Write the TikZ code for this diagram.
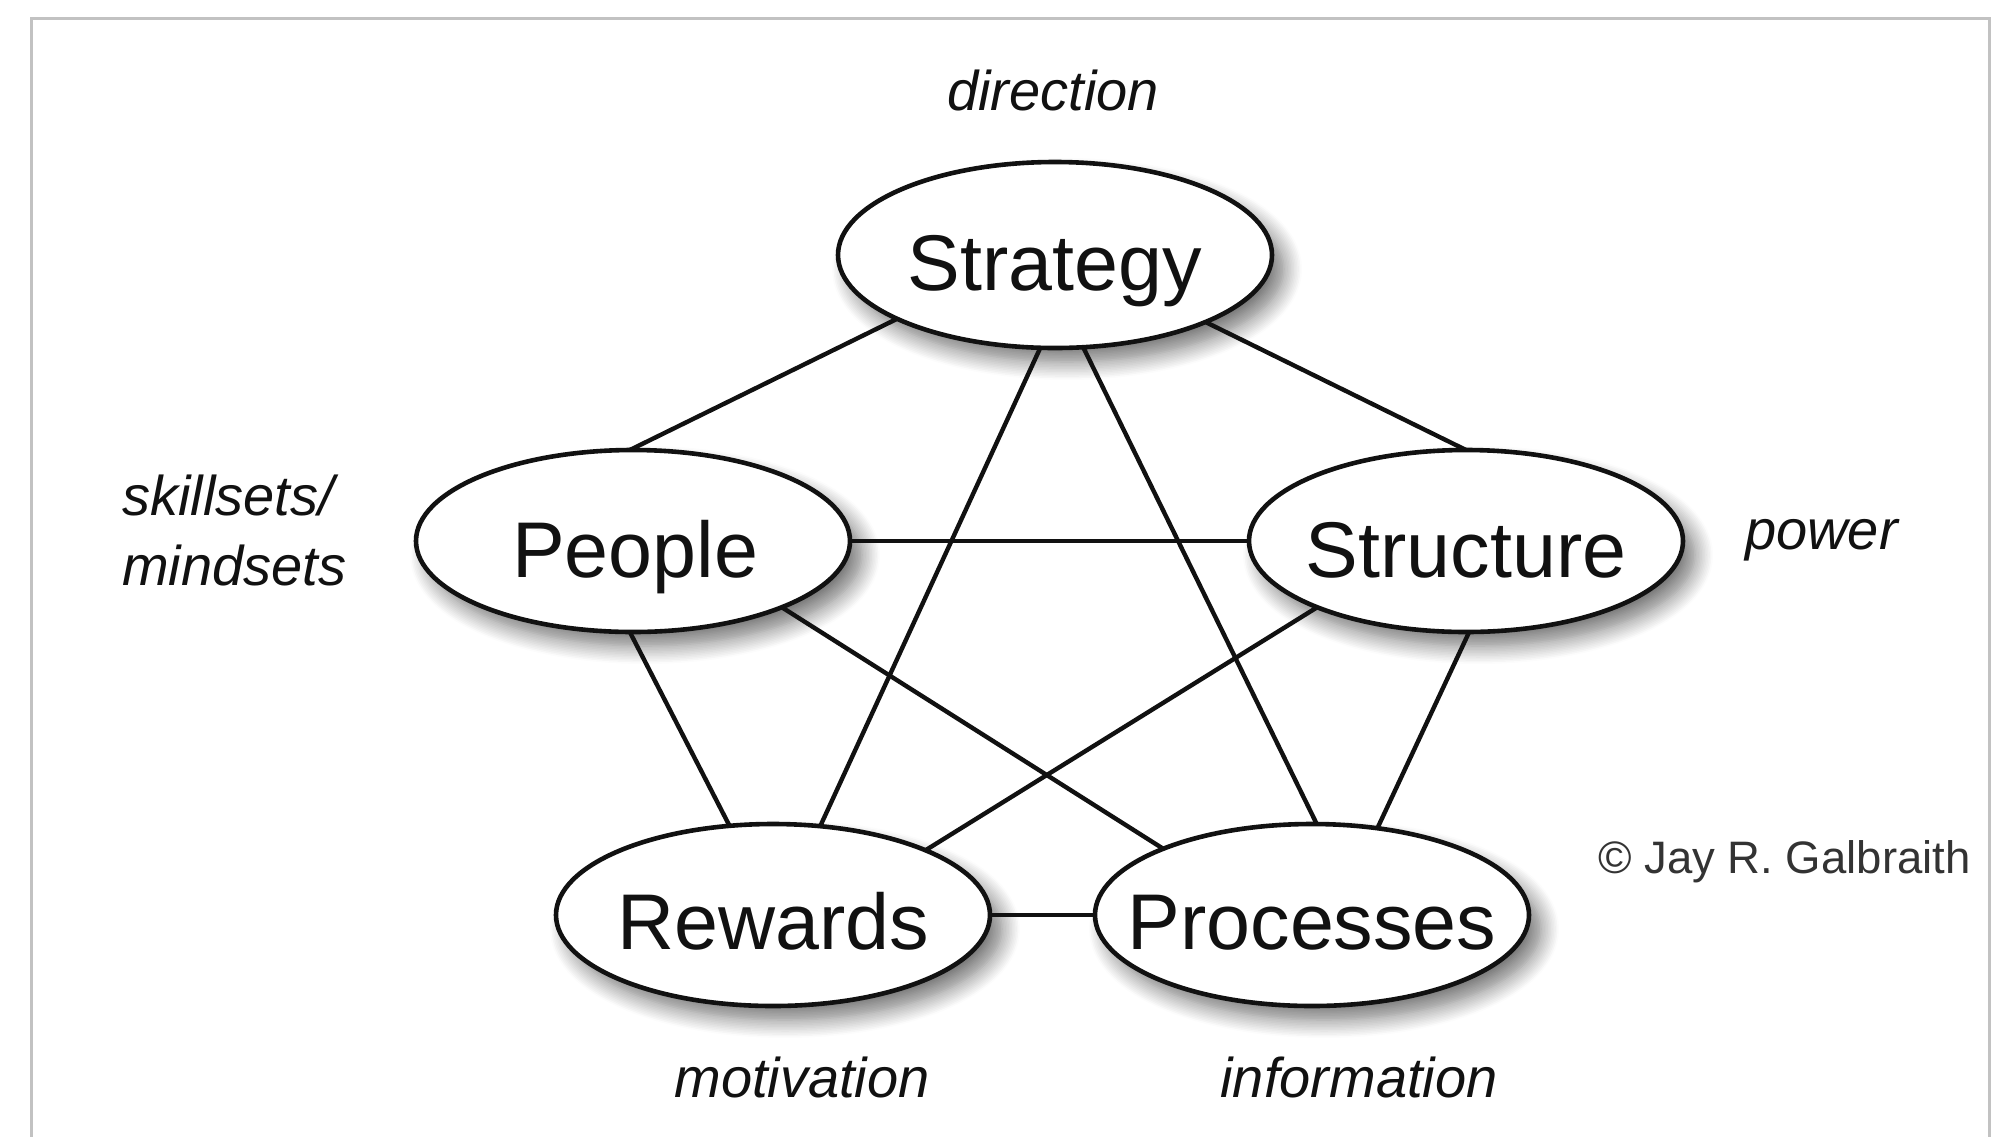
\documentclass[tikz,border=0pt]{standalone}
\usepackage{fontspec}
\setmainfont{Liberation Sans}
\usetikzlibrary{shapes.geometric,shadows.blur}
\definecolor{framegray}{HTML}{C2C2C2}
\definecolor{ink}{HTML}{111111}
\definecolor{copygray}{HTML}{333333}
\begin{document}
\begin{tikzpicture}[x=1pt,y=-1pt,
  oval/.style={ellipse, draw=ink, line width=4.6pt, fill=white,
    minimum width=434pt, minimum height=182pt, inner sep=0pt, outer sep=0pt,
    blur shadow={shadow xshift=12pt, shadow yshift=-14pt, shadow blur radius=18pt, shadow blur steps=12, shadow opacity=55}},
  conn/.style={line width=4.4pt, draw=ink},
  big/.style={font=\fontsize{79pt}{90pt}\selectfont, inner sep=0pt, anchor=base, text=ink},
  note/.style={font=\fontsize{56pt}{70pt}\selectfont\itshape, inner sep=0pt, text=ink},
  copy/.style={font=\fontsize{45.5pt}{55pt}\selectfont, inner sep=0pt, text=copygray, anchor=base west},
]
\useasboundingbox (0,0) rectangle (2005,1136);
% frame
\draw[framegray, line width=3pt] (31,1140) -- (31,18) -- (1989,18) -- (1989,1140);

% ellipses
\node[oval, minimum height=186pt] (S) at (1055,255) {};
\node[oval] (P) at (633,541) {};
\node[oval] (T) at (1466,541) {};
\node[oval] (R) at (773,915) {};
\node[oval] (Q) at (1312,915) {};

% connectors
\draw[conn] (S.202) -- (P.92);
\draw[conn] (S.336) -- (T.90);
\draw[conn] (S.261) -- (R.62);
\draw[conn] (S.287.5) -- (Q.87);
\draw[conn] (P.0) -- (T.180);
\draw[conn] (P.268) -- (R.116);
\draw[conn] (P.336) -- (Q.156);
\draw[conn] (T.204) -- (R.23);
\draw[conn] (T.272) -- (Q.53);
\draw[conn] (R.0) -- (Q.180);

% labels in ellipses
\node[big] (St) at (1055,290) {Strategy};
\node[big] (Pt) at (635,577) {People};
\node[big] (Tt) at (1466,577) {Structure};
\node[big] (Rt) at (773,949) {Rewards};
\node[big] (Qt) at (1312,949) {Processes};

% side labels
\node[note, anchor=base] (dir) at (1053,110) {direction};
\node[note, anchor=base west] (sk1) at (122,515) {skillsets/};
\node[note, anchor=base west] (sk2) at (122,585) {mindsets};
\node[note, anchor=base west] (pow) at (1745,549) {power};
\node[note, anchor=base] (mot) at (802,1097) {motivation};
\node[note, anchor=base] (inf) at (1359,1097) {information};
\node[copy] (cr) at (1598,873) {© Jay R. Galbraith};
\end{tikzpicture}
\end{document}
